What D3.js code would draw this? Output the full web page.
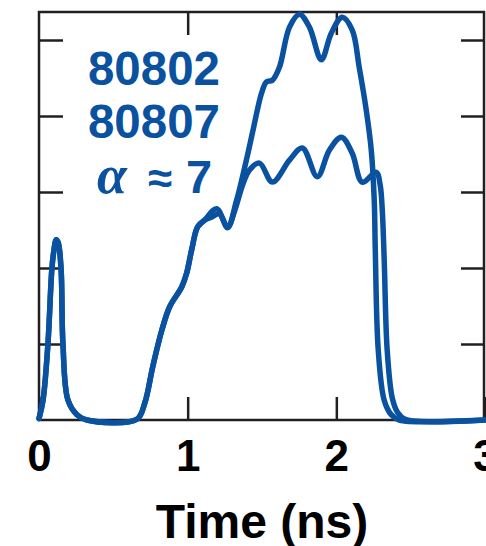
<!DOCTYPE html>
<html>
<head>
<meta charset="utf-8">
<script src="https://cdn.jsdelivr.net/npm/d3@7"></script>
<style>
  body { margin: 0; background: #fff; }
  svg { display: block; }
</style>
</head>
<body>
<div id="chart"></div>
<script>
// shared rise of both shots (first spike + foot of main pulse), time in ns
let commonTime = [0, 0.027, 0.060, 0.087, 0.101, 0.114, 0.128, 0.148, 0.161, 0.195, 0.255, 0.322,
  0.658, 0.711, 0.765, 0.826, 0.879, 0.960, 0.993, 1.027, 1.067, 1.114];
let commonValue = [0.02, 0.26, 1.00, 2.00, 2.24, 2.37, 2.34, 2.00, 1.00, 0.26, 0.07, 0.0,
  0.01, 0.22, 0.70, 1.18, 1.49, 1.75, 1.93, 2.24, 2.54, 2.63];

// 80802 (higher curve)
let shotATime = [1.195, 1.268, 1.329, 1.403, 1.436, 1.497, 1.530, 1.570, 1.617, 1.685, 1.752, 1.819,
  1.899, 1.966, 2.040, 2.107, 2.154, 2.201, 2.235, 2.255, 2.262, 2.282, 2.322, 2.369, 2.423, 3.0];
let shotAValue = [2.78, 2.54, 2.89, 3.49, 3.78, 4.30, 4.45, 4.47, 4.64, 5.17, 5.34, 5.17,
  4.74, 5.09, 5.30, 5.13, 4.64, 4.08, 3.55, 2.89, 2.24, 0.92, 0.26, 0.07, 0.0, 0.0];

// 80807 (lower curve)
let shotBTime = [1.161, 1.215, 1.268, 1.322, 1.369, 1.416, 1.483, 1.570, 1.685, 1.772, 1.872, 1.953,
  2.034, 2.107, 2.174, 2.268, 2.295, 2.309, 2.322, 2.342, 2.376, 2.409, 2.463, 3.0];
let shotBValue = [2.67, 2.71, 2.53, 2.79, 3.09, 3.29, 3.38, 3.13, 3.42, 3.58, 3.20, 3.55,
  3.72, 3.51, 3.13, 3.26, 3.09, 2.76, 2.11, 0.92, 0.29, 0.11, 0.01, 0.0];

let xTicks = [0, 1, 2, 3];
let yTicks = [1, 2, 3, 4, 5];
let labelLines = ["80802", "80807"];

let svgWidth = 486;
let svgHeight = 546;
let margin = { top: 12, right: 1, bottom: 126, left: 39 };
let width = svgWidth - margin.left - margin.right;
let height = svgHeight - margin.top - margin.bottom;

let blue = "#0a52a0";
let ink = "#231f20";
let sans = "'Liberation Sans', Arial, sans-serif";

let svg = d3.select("#chart")
  .append("svg")
  .attr("width", svgWidth)
  .attr("height", svgHeight);

let chartGroup = svg.append("g")
  .attr("transform", `translate(${margin.left}, ${margin.top})`);

let x = d3.scaleLinear().domain([0, 3]).range([0, width]);
let y = d3.scaleLinear().domain([0, 408 / 76]).range([height, 0]);

function toPoints(ts, vs) {
  return ts.map((t, i) => ({ t: t, v: vs[i] }));
}

let common = toPoints(commonTime, commonValue);
let shotA = common.concat(toPoints(shotATime, shotAValue));
let shotB = common.concat(toPoints(shotBTime, shotBValue));

// axes: inward ticks, labels only along the bottom
let tickLen = 23;

chartGroup.append("g")
  .attr("transform", `translate(0, ${height})`)
  .call(d3.axisBottom(x).tickValues(xTicks).tickSizeInner(-tickLen).tickSizeOuter(0).tickPadding(20).tickFormat(d3.format("d")))
  .call(g => g.select(".domain").remove())
  .call(g => g.selectAll("line").attr("stroke", ink).attr("stroke-width", 2.5))
  .call(g => g.selectAll("text")
    .attr("fill", "#000")
    .attr("font-family", sans)
    .attr("font-weight", "bold")
    .attr("font-size", 44));

chartGroup.append("g")
  .call(d3.axisTop(x).tickValues([1, 2]).tickSizeInner(-tickLen).tickSizeOuter(0).tickFormat(""))
  .call(g => g.select(".domain").remove())
  .call(g => g.selectAll("line").attr("stroke", ink).attr("stroke-width", 2.5));

chartGroup.append("g")
  .call(d3.axisLeft(y).tickValues(yTicks).tickSizeInner(-tickLen - 1).tickSizeOuter(0).tickFormat(""))
  .call(g => g.select(".domain").remove())
  .call(g => g.selectAll("line").attr("stroke", ink).attr("stroke-width", 2.5));

chartGroup.append("g")
  .attr("transform", `translate(${width - 1}, 0)`)
  .call(d3.axisRight(y).tickValues(yTicks).tickSizeInner(-tickLen).tickSizeOuter(0).tickFormat(""))
  .call(g => g.select(".domain").remove())
  .call(g => g.selectAll("line").attr("stroke", ink).attr("stroke-width", 2.5));

// frame
chartGroup.append("rect")
  .attr("x", 0)
  .attr("y", 0)
  .attr("width", width - 1)
  .attr("height", height)
  .attr("fill", "none")
  .attr("stroke", ink)
  .attr("stroke-width", 2.5);

// the two pulse shapes
let line = d3.line()
  .x(d => x(d.t))
  .y(d => y(d.v))
  .curve(d3.curveCatmullRom.alpha(0.5));

chartGroup.selectAll(".shot")
  .data([shotA, shotB])
  .enter()
  .append("path")
    .attr("class", "shot")
    .attr("d", line)
    .attr("fill", "none")
    .attr("stroke", blue)
    .attr("stroke-width", 5.5)
    .attr("stroke-linejoin", "round")
    .attr("stroke-linecap", "round");

// shot labels
chartGroup.selectAll(".shot-label")
  .data(labelLines)
  .enter()
  .append("text")
    .attr("class", "shot-label")
    .attr("x", 115)
    .attr("y", (d, i) => 73 + i * 53)
    .attr("text-anchor", "middle")
    .attr("fill", blue)
    .attr("font-family", sans)
    .attr("font-weight", "bold")
    .attr("font-size", 47.5)
    .text(d => d);

// alpha ≈ 7, each piece placed on its own
chartGroup.append("text")
  .attr("x", 58)
  .attr("y", 181)
  .attr("fill", blue)
  .attr("font-family", "'Liberation Serif', 'Times New Roman', serif")
  .attr("font-style", "italic")
  .attr("font-weight", "bold")
  .attr("font-size", 54)
  .text("α");

chartGroup.append("text")
  .attr("x", 121)
  .attr("y", 181)
  .attr("text-anchor", "middle")
  .attr("fill", blue)
  .attr("font-family", sans)
  .attr("font-weight", "bold")
  .attr("font-size", 44)
  .text("≈");

chartGroup.append("text")
  .attr("x", 147)
  .attr("y", 181)
  .attr("fill", blue)
  .attr("font-family", sans)
  .attr("font-weight", "bold")
  .attr("font-size", 47)
  .text("7");

// x axis title
svg.append("text")
  .attr("x", 262)
  .attr("y", 538)
  .attr("text-anchor", "middle")
  .attr("fill", "#000")
  .attr("font-family", sans)
  .attr("font-weight", "bold")
  .attr("font-size", 48)
  .text("Time (ns)");
</script>
</body>
</html>
